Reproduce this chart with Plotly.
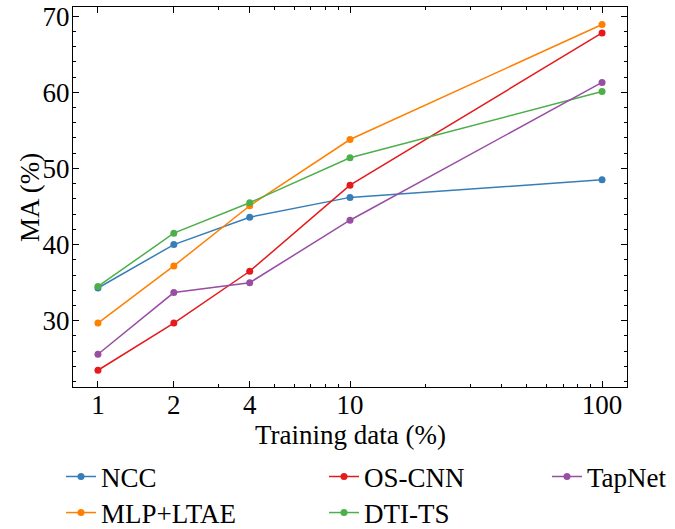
import plotly.graph_objects as go

training_pct = [1, 2, 4, 10, 100]
x_tick_labels = ["1", "2", "4", "10", "100"]

ncc = [34.3, 40.0, 43.6, 46.2, 48.5]
mlp_ltae = [29.7, 37.2, 45.1, 53.8, 68.9]
os_cnn = [23.5, 29.7, 36.5, 47.8, 67.8]
tapnet = [25.6, 33.7, 35.0, 43.2, 61.3]
dti_ts = [34.5, 41.5, 45.5, 51.4, 60.1]

series_names = ["NCC", "MLP+LTAE", "OS-CNN", "DTI-TS", "TapNet"]
series_vals = [ncc, mlp_ltae, os_cnn, dti_ts, tapnet]
colors = ["#377eb8", "#ff7f00", "#e41a1c", "#4daf4a", "#984ea3"]

FONT = "Liberation Serif"
FS = 27

W, H = 675, 529
L, R, T, B = 73, 48, 7, 142
PLOT_W = W - L - R
PLOT_H = H - T - B

# legend placement in window px: (text x, row center y)
legend_pos = {"NCC": (103, 477), "MLP+LTAE": (103, 513),
              "OS-CNN": (366, 477), "DTI-TS": (366, 513),
              "TapNet": (589, 477)}
legend_ids = {"NCC": "legend", "MLP+LTAE": "legend2", "OS-CNN": "legend3",
              "DTI-TS": "legend4", "TapNet": "legend5"}

fig = go.Figure()
for name, vals, c in zip(series_names, series_vals, colors):
    fig.add_trace(go.Scatter(
        x=training_pct, y=vals, mode="lines+markers", name=name,
        line=dict(color=c, width=1.5), marker=dict(color=c, size=7),
        legend=legend_ids[name]))

layout_legends = {}
for name, lid in legend_ids.items():
    tx, ty = legend_pos[name]
    layout_legends[lid] = dict(
        xref="container", yref="container",
        x=(tx - 42) / W, xanchor="left",
        y=1 - ty / H, yanchor="middle",
        bgcolor="rgba(0,0,0,0)", borderwidth=0,
        font=dict(family=FONT, size=FS, color="black"))

fig.update_layout(
    width=W, height=H,
    margin=dict(l=L, r=R, t=T, b=B, autoexpand=False),
    plot_bgcolor="white", paper_bgcolor="white",
    font=dict(family=FONT, size=FS, color="black"),
    showlegend=True,
    **layout_legends,
)

# axis titles as annotations (window px -> paper coords)
fig.add_annotation(text="Training data (%)", xref="paper", yref="paper",
                   x=0.5, y=1 - (435 - T) / PLOT_H,
                   xanchor="center", yanchor="middle", showarrow=False,
                   font=dict(family=FONT, size=FS, color="black"))
fig.add_annotation(text="MA (%)", xref="paper", yref="paper", textangle=-90,
                   x=(30 - L) / PLOT_W, y=1 - (197 - T) / PLOT_H,
                   xanchor="center", yanchor="middle", showarrow=False,
                   font=dict(family=FONT, size=FS, color="black"))

fig.update_xaxes(
    type="log", range=[-0.099, 2.099],
    tickmode="array", tickvals=training_pct, ticktext=x_tick_labels,
    ticks="inside", ticklen=6, tickwidth=1, tickcolor="black",
    showline=True, linecolor="black", linewidth=1.2, mirror="ticks",
    showgrid=False, zeroline=False, automargin=False,
    minor=dict(tickmode="array", tickvals=[3, 5, 6, 7, 8, 9, 20, 30, 40, 50, 60, 70, 80, 90],
               ticks="inside", ticklen=3, tickwidth=1, tickcolor="black", showgrid=False),
    tickfont=dict(family=FONT, size=FS),
    ticklabelstandoff=-7, ticklabeloverflow="allow",
)
fig.update_yaxes(
    range=[21.3, 71.2], tickmode="linear", tick0=30, dtick=10,
    ticks="inside", ticklen=6, tickwidth=1, tickcolor="black",
    showline=True, linecolor="black", linewidth=1.2, mirror="ticks",
    showgrid=False, zeroline=False, automargin=False,
    minor=dict(dtick=2, tick0=0, ticks="inside", ticklen=3, tickwidth=1,
               tickcolor="black", showgrid=False),
    tickfont=dict(family=FONT, size=FS),
    ticklabelstandoff=-3, ticklabeloverflow="allow",
)

# remove the browser's default 8px page margin so the figure fills the window
fig.write_html("out.html", config={"displayModeBar": False},
               post_script="document.body.style.margin='0';")
